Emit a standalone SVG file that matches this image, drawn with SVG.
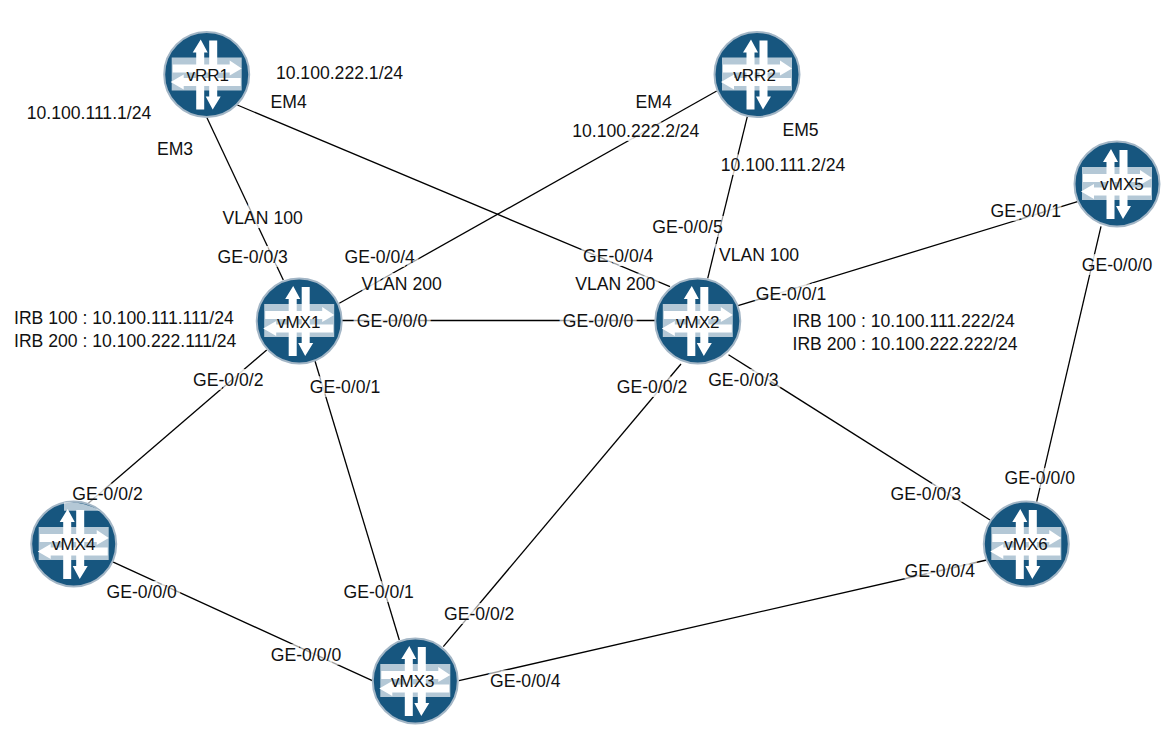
<svg xmlns="http://www.w3.org/2000/svg" width="1173" height="744" viewBox="0 0 1173 744">
<style>
text{font-family:"Liberation Sans",Arial,sans-serif;font-size:17.6px;fill:#111;text-anchor:middle}
.lb{paint-order:stroke;stroke:#fff;stroke-opacity:.65;stroke-width:8px;stroke-linejoin:miter}
.pl{text-anchor:start}
.n{font-size:17px}
.c line{stroke:#000;stroke-width:1.3}
.disc{fill:#17567f;stroke:#a3b6c6;stroke-width:2}
.band{fill:#fff;opacity:.68}
.ar{fill:#fff}
</style>
<defs>
<g id="icon">
<circle class="disc" r="42.5"/>
<rect class="band" x="-35" y="-17" width="70" height="33"/>
<path class="ar" d="M-34-10H23V-14L35-6 23 1V-2H-34Z"/>
<path class="ar" d="M34 3.500H-23V0L-36 7.500-23 15V11.500H34Z"/>
<path class="ar" d="M-6-35L1-22H-2.500V35H-10.500V-22H-14Z"/>
<path class="ar" d="M6 35L-1 22H2.500V-34H10.500V22H14Z"/>
</g>
</defs>
<rect width="1173" height="744" fill="#fff"/>
<g id="connectors" class="c">
<line x1="206.700" y1="117.300" x2="283.300" y2="280"/>
<line x1="237.300" y1="105" x2="670" y2="286.700"/>
<line x1="716.700" y1="91" x2="339.300" y2="303.300"/>
<line x1="747.300" y1="116.700" x2="707.700" y2="278.300"/>
<line x1="342" y1="320.500" x2="655" y2="320.500"/>
<line x1="266.700" y1="350" x2="88.300" y2="503.300"/>
<line x1="315" y1="361" x2="399.300" y2="640"/>
<line x1="738" y1="305.700" x2="1077.500" y2="201.600"/>
<line x1="681" y1="364" x2="443.300" y2="646.700"/>
<line x1="728.500" y1="354.700" x2="990" y2="520"/>
<line x1="1101" y1="226.300" x2="1036.700" y2="501.700"/>
<line x1="110" y1="560.700" x2="372.300" y2="680.700"/>
<line x1="459" y1="680.700" x2="986.700" y2="560"/>
</g>
<g id="labels">
<text x="339.500" y="79" class="lb">10.100.222.1/24</text>
<text x="89" y="119" class="lb">10.100.111.1/24</text>
<text x="288.700" y="108" class="lb">EM4</text>
<text x="175" y="155" class="lb">EM3</text>
<text x="653.700" y="108" class="lb">EM4</text>
<text x="635.800" y="137" class="lb">10.100.222.2/24</text>
<text x="800.500" y="136" class="lb">EM5</text>
<text x="783" y="170.500" class="lb">10.100.111.2/24</text>
<text x="262.700" y="224" class="lb">VLAN 100</text>
<text x="252.700" y="263" class="lb">GE-0/0/3</text>
<text x="379.700" y="263" class="lb">GE-0/0/4</text>
<text x="401.700" y="290" class="lb">VLAN 200</text>
<text x="618.200" y="262" class="lb">GE-0/0/4</text>
<text x="615.300" y="290" class="lb">VLAN 200</text>
<text x="687.500" y="233" class="lb">GE-0/0/5</text>
<text x="759" y="261" class="lb">VLAN 100</text>
<text x="1025.800" y="217" class="lb">GE-0/0/1</text>
<text x="1117" y="271" class="lb">GE-0/0/0</text>
<text x="791" y="300" class="lb">GE-0/0/1</text>
<text x="392" y="327" class="lb">GE-0/0/0</text>
<text x="598" y="327" class="lb">GE-0/0/0</text>
<text x="14" y="323.500" class="pl">IRB 100 : 10.100.111.111/24</text>
<text x="14" y="346.500" class="pl">IRB 200 : 10.100.222.111/24</text>
<text x="792.500" y="326.500" class="pl">IRB 100 : 10.100.111.222/24</text>
<text x="792.500" y="350" class="pl">IRB 200 : 10.100.222.222/24</text>
<text x="228.300" y="386" class="lb">GE-0/0/2</text>
<text x="345" y="393.300" class="lb">GE-0/0/1</text>
<text x="652" y="393" class="lb">GE-0/0/2</text>
<text x="743.400" y="386" class="lb">GE-0/0/3</text>
<text x="107.500" y="500" class="lb">GE-0/0/2</text>
<text x="1039.800" y="484" class="lb">GE-0/0/0</text>
<text x="925.800" y="500" class="lb">GE-0/0/3</text>
<text x="939.800" y="576.700" class="lb">GE-0/0/4</text>
<text x="141.700" y="598.300" class="lb">GE-0/0/0</text>
<text x="378.700" y="598.300" class="lb">GE-0/0/1</text>
<text x="479.200" y="620" class="lb">GE-0/0/2</text>
<text x="306" y="660.500" class="lb">GE-0/0/0</text>
<text x="525.300" y="687" class="lb">GE-0/0/4</text>
</g>
<g id="vRR1"><use href="#icon" x="206.700" y="74.500"/><text class="n" x="207.800" y="80.500">vRR1</text></g>
<g id="vRR2"><use href="#icon" x="757" y="74.500"/><text class="n" x="754.600" y="80.500">vRR2</text></g>
<g id="vMX5"><use href="#icon" x="1117" y="184"/><text class="n" x="1122" y="190">vMX5</text></g>
<g id="vMX1"><use href="#icon" x="299.200" y="321"/><text class="n" x="298.700" y="327.500">vMX1</text></g>
<g id="vMX2"><use href="#icon" x="697.800" y="321"/><text class="n" x="697.800" y="327.500">vMX2</text></g>
<g id="vMX4"><use href="#icon" x="73.700" y="544"/><path class="band" d="M64 502.500Q82 500.500 100 510.700H64Z"/><text class="n" x="73.700" y="550">vMX4</text></g>
<g id="vMX3"><use href="#icon" x="415.300" y="681"/><text class="n" x="412.800" y="687">vMX3</text></g>
<g id="vMX6"><use href="#icon" x="1026.300" y="544"/><text class="n" x="1026" y="550">vMX6</text></g>
</svg>
